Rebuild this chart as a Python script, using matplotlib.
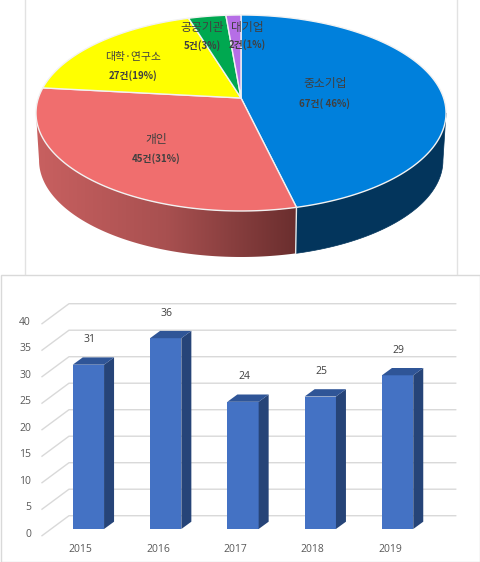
import numpy as np
from matplotlib import pyplot as plt
from matplotlib.patches import Polygon, Rectangle
from matplotlib.colors import LinearSegmentedColormap

plt.rcParams['font.family'] = ['Noto Sans CJK KR', 'DejaVu Sans']

W, H = 481, 562

# pie
pie_names = ['중소기업', '개인', '대학·연구소', '공공기관', '대기업']
pie_counts = [67, 45, 27, 5, 2]
pie_texts = ['67건( 46%)', '45건(31%)', '27건(19%)', '5건(3%)', '2건(1%)']
pie_colors = ['#0080DC', '#F06E6E', '#FFFF00', '#00A850', '#B66EE6']
name_pos = [(325, 84), (156, 140), (133, 57), (202, 28), (247, 27)]
text_pos = [(325, 104), (156, 159), (133, 76), (202, 46), (247, 45)]
name_sizes = [8.5, 8.5, 7.8, 8.5, 8.5]

# bars
years = ['2015', '2016', '2017', '2018', '2019']
reports = [31, 36, 24, 25, 29]
y_ticks = [0, 5, 10, 15, 20, 25, 30, 35, 40]

fig = plt.figure(figsize=(W / 100, H / 100), dpi=100, facecolor='white')

# whole figure in pixels, for the tilted pie and the frames
ax = fig.add_axes([0, 0, 1, 1])
ax.axis('off')

ax.plot([25.5, 25.5], [0, 274], color='#e2e2e2', lw=1)
ax.plot([457.5, 457.5], [0, 274], color='#e2e2e2', lw=1)
ax.add_patch(Rectangle((0.5, 274.5), 479.5, 287, fc='white', ec='#d9d9d9', lw=1))

HUB_X, HUB_Y = 241, 98
A, B, K = 202.6, 95.7, 0.153
WALL_SCALE, WALL_DROP = 0.985, 47.7


def rim(theta, scale=1.0, drop=0.0):
    # theta clockwise from the top of the pie, tilted with some perspective
    u, v = np.sin(theta), np.cos(theta)
    d = 1 + K * v
    return HUB_X + scale * A * u / d, HUB_Y - scale * B * v / d + drop


def wall_outline(t0, t1):
    t = np.linspace(t0, t1, 300)
    x1, y1 = rim(t)
    x2, y2 = rim(t, WALL_SCALE, WALL_DROP)
    return list(zip(x1, y1)) + list(zip(x2[::-1], y2[::-1]))


edges = np.cumsum([0] + pie_counts) / sum(pie_counts) * 2 * np.pi
edges[1] += 0.023  # the seam sits a bit left of the exact share in the picture

# the wall is only seen between the widest points of the rim
sweep = np.linspace(0, 2 * np.pi, 1441)
sweep_x = rim(sweep)[0]
t_right, t_left = sweep[np.argmax(sweep_x)], sweep[np.argmin(sweep_x)]

# side wall first, the top covers the back half
ax.add_patch(Polygon(wall_outline(t_right, edges[1]), fc='#03355C', ec='#03355C', lw=0.5))

red_wall = Polygon(wall_outline(edges[1], t_left), fc='none', ec='none')
ax.add_patch(red_wall)
seam_x, seam_y = rim(edges[1])
seam_x2, seam_y2 = rim(edges[1], WALL_SCALE, WALL_DROP)
red_cmap = LinearSegmentedColormap.from_list('wall', ['#C86060', '#A85050', '#6A2E2E'])
img = ax.imshow(np.linspace(0, 1, 256)[None, :], cmap=red_cmap, aspect='auto',
                extent=(36, seam_x, 262, 80), interpolation='bilinear')
img.set_clip_path(red_wall)

ax.plot([seam_x, seam_x2], [seam_y, seam_y2], color='#e8e8e8', lw=1)

for i, c in enumerate(pie_colors):
    x, y = rim(np.linspace(edges[i], edges[i + 1], 200))
    ax.add_patch(Polygon([(HUB_X, HUB_Y)] + list(zip(x, y)), fc=c, ec='#f2f2f2', lw=1,
                         joinstyle='round'))

for i in range(len(pie_names)):
    ax.text(*name_pos[i], pie_names[i], ha='center', va='center', fontsize=name_sizes[i],
            color='#404040', fontweight='medium')
    ax.text(*text_pos[i], pie_texts[i], ha='center', va='center', fontsize=7,
            color='#404040', fontweight='bold')

ax.set_xlim(0, W)
ax.set_ylim(H, 0)

# bar chart, x in categories and y in values
x0, x_step = 88.4, 77.3
y0, y_step = 529, 5.3
left, right = (0 - 0.5) * x_step + x0, (5 - 0.5) * x_step + x0
top, bottom = y0 - 47 * y_step, y0 + 5 * y_step
ax2 = fig.add_axes([left / W, 1 - bottom / H, (right - left) / W, (bottom - top) / H])
ax2.set_xlim(-0.5, 4.5)
ax2.set_ylim(-5, 47)
ax2.patch.set_alpha(0)
ax2.axis('off')

# back wall offset and bar depth
back_dy = 13.3 / y_step
front_dy = -6.7 / y_step
x_wall = (69 - x0) / x_step
x_front = (42 - x0) / x_step
x_end = (455.7 - x0) / x_step
latin = ['Open Sans', 'DejaVu Sans']
for v in y_ticks:
    ax2.plot([x_front, x_wall, x_end], [v + front_dy, v + back_dy, v + back_dy],
             color='#d9d9d9', lw=1, clip_on=False)
    ax2.text((31 - x0) / x_step, v - 1, str(v), ha='right', va='center',
             fontsize=7.5, color='#595959', family=latin, clip_on=False)

bar_w = 31.3 / x_step
dx = 10 / x_step
dy = 7.3 / y_step
xs = np.arange(len(years))
ax2.bar(xs, reports, width=bar_w, color='#4472C4', zorder=3)
for x, v in zip(xs, reports):
    l, r = x - bar_w / 2, x + bar_w / 2
    ax2.add_patch(Polygon([(r, 0), (r + dx, dy), (r + dx, v + dy), (r, v)],
                          fc='#264478', ec='none', zorder=3))
    ax2.add_patch(Polygon([(l, v), (l + dx, v + dy), (r + dx, v + dy), (r, v)],
                          fc='#2F5597', ec='none', zorder=3))
    ax2.text(x + 1 / x_step, v + 25 / y_step, str(v), ha='center', va='center', fontsize=7.5,
             color='#404040', family=latin, zorder=4)
    ax2.text(x - 7.7 / x_step, -21 / y_step, years[x], ha='center', va='center', fontsize=7.5,
             color='#595959', family=latin)

fig.savefig('out.png', dpi=100)
